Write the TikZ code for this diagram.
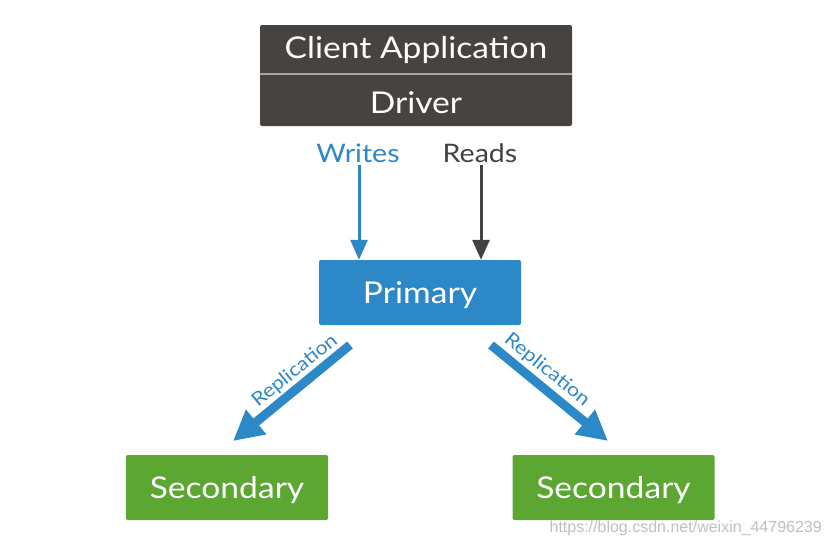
\documentclass[tikz,border=0pt]{standalone}
\usepackage{fontspec}
\setmainfont{Lato}[FakeStretch=1.12]
\newfontfamily\wmfont{Liberation Sans}
\usetikzlibrary{arrows.meta}
\definecolor{appgray}{HTML}{474340}
\definecolor{readgray}{HTML}{444240}
\definecolor{mblue}{HTML}{2C88C6}
\definecolor{mgreen}{HTML}{5CA632}
\definecolor{divgray}{HTML}{A8A6A4}
\begin{document}
\begin{tikzpicture}[x=1pt,y=-1pt,
  appbox/.style={fill=appgray,rounded corners=2pt,inner sep=0pt},
  boxtext/.style={text=white,font=\fontsize{30}{32}\selectfont,inner sep=0pt},
  primbox/.style={fill=mblue,rounded corners=2pt,minimum width=202pt,minimum height=65pt},
  secbox/.style={fill=mgreen,rounded corners=2pt,minimum width=202pt,minimum height=65pt},
  intext/.style={text=white,font=\fontsize{30}{32}\selectfont,inner sep=0pt},
  lbl/.style={font=\fontsize{25.5}{28}\selectfont,inner sep=1pt},
  thinarrow/.style={line width=3pt,-{Triangle[length=20pt,width=17pt]}},
  reparrow/.style={line width=9pt,-{Triangle[length=30pt,width=30pt]}},
  replbl/.style={text=mblue,font=\fontsize{19}{21}\selectfont,inner sep=0pt}
]
\useasboundingbox (0,0) rectangle (828,546);
% application box
\node[appbox,minimum width=312pt,minimum height=101pt] (app) at (416,75.5) {};
\draw[divgray,line width=1.5pt] (app.west |- 0,74) -- (app.east |- 0,74);
\node[boxtext] (client) at (416,50) {Client Application};
\node[boxtext] (driver) at (416,103) {Driver};
% labels
\node[lbl,text=mblue] (writes) at (358,153) {Writes};
\node[lbl,text=readgray] (reads) at (480,153) {Reads};
% primary
\node[primbox] (primary) at (420,292.5) {};
\node[intext] (ptext) at (420,295) {Primary};
% secondaries
\node[secbox] (sec1) at (227,487.5) {};
\node[intext] (s1text) at (227,490) {Secondary};
\node[secbox] (sec2) at (613.5,487.5) {};
\node[intext] (s2text) at (613.5,490) {Secondary};
% read/write arrows
\coordinate (wtop) at (359,165);
\coordinate (rtop) at (481,165);
\draw[thinarrow,mblue] (wtop) -- (wtop |- primary.north);
\draw[thinarrow,readgray] (rtop) -- (rtop |- primary.north);
% replication arrows
\coordinate (l1) at (350,345);
\coordinate (l2) at (233,441);
\coordinate (r1) at (491,345);
\coordinate (r2) at (608,441);
\draw[reparrow,mblue] (l1) -- (l2);
\draw[reparrow,mblue] (r1) -- (r2);
\node[replbl,rotate=39] (rep1) at (295,371) {Replication};
\node[replbl,rotate=-39] (rep2) at (547,370) {Replication};
% watermark
\node[text=black!25,font=\wmfont\fontsize{16}{18}\selectfont,anchor=east,inner sep=0pt] (wm) at (822,528) {https://blog.csdn.net/weixin\_44796239};
\end{tikzpicture}
\end{document}
